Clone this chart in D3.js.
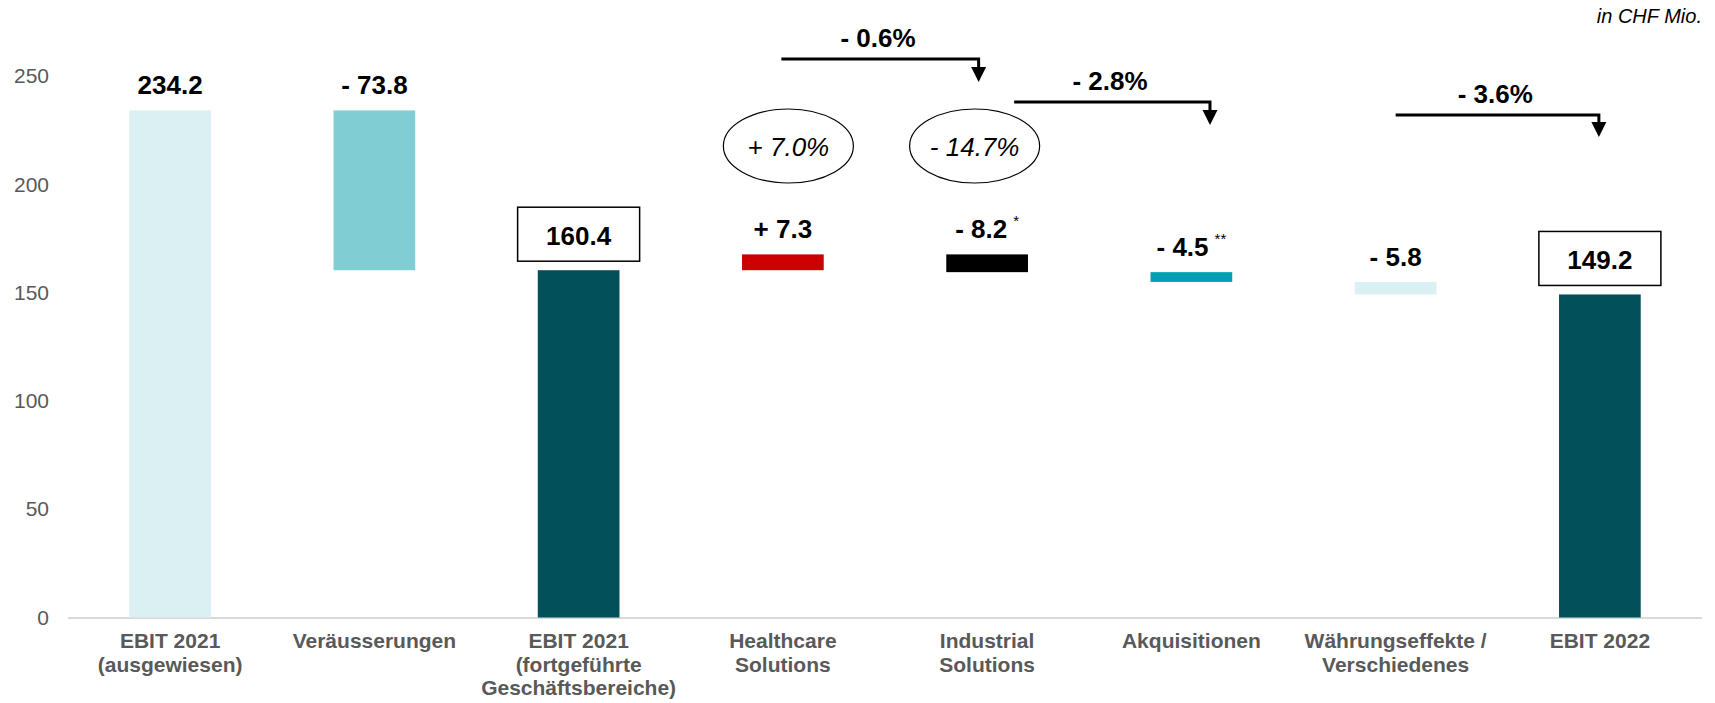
<!DOCTYPE html>
<html>
<head>
<meta charset="utf-8">
<script src="https://cdn.jsdelivr.net/npm/d3@7"></script>
<style>
  body { margin: 0; background: #fff; }
  svg text { font-family: "Liberation Sans", Arial, sans-serif; }
</style>
</head>
<body>
<div id="vis"></div>
<script>
// chart values
const categories = [
  ["EBIT 2021", "(ausgewiesen)"],
  ["Veräusserungen"],
  ["EBIT 2021", "(fortgeführte", "Geschäftsbereiche)"],
  ["Healthcare", "Solutions"],
  ["Industrial", "Solutions"],
  ["Akquisitionen"],
  ["Währungseffekte /", "Verschiedenes"],
  ["EBIT 2022"],
];
const values = [234.2, -73.8, 160.4, 7.3, -8.2, -4.5, -5.8, 149.2];
const isTotal = [true, false, true, false, false, false, false, true];
const valueLabels = ["234.2", "- 73.8", "160.4", "+ 7.3", "- 8.2", "- 4.5", "- 5.8", "149.2"];
const footnotes = ["", "", "", "", "*", "**", "", ""];
const boxed = [false, false, true, false, false, false, false, true];
const yTicks = [0, 50, 100, 150, 200, 250];

// segment growth (ellipses)
const growthCats = [3, 4];
const growthLabels = ["+ 7.0%", "- 14.7%"];

// margin change arrows
const marginFrom = [3, 4, 6];
const marginTo = [4, 5, 7];
const marginLabels = ["- 0.6%", "- 2.8%", "- 3.6%"];

////////////////////////////////////////
/////////////// Setup //////////////////
////////////////////////////////////////

const width = 1715;
const height = 703;
const colors = ["#daf0f2", "#80ced3", "#02505a", "#cc0000", "#000000", "#009fb4", "#daf0f2", "#02505a"];
const grey = "#595959";

const svg = d3.select("#vis").append("svg")
  .attr("width", width)
  .attr("height", height);

// waterfall steps
let running = 0;
const data = values.map((v, i) => {
  let start, end;
  if (isTotal[i]) { start = 0; end = v; running = v; }
  else { start = running; end = running + v; running = end; }
  return { i, lines: categories[i], start, end, label: valueLabels[i], note: footnotes[i], boxed: boxed[i] };
});

const x = d3.scaleBand()
  .domain(d3.range(categories.length))
  .range([68, 1702])
  .paddingInner(0.6)
  .paddingOuter(0.3);

const y = d3.scaleLinear().domain([0, 250]).range([617.5, 76.2]);
const cx = (i) => x(i) + x.bandwidth() / 2;

////////////////////////////////////////
/////////////// Axes ///////////////////
////////////////////////////////////////

const yAxis = svg.append("g")
  .attr("transform", "translate(60,0)")
  .call(d3.axisLeft(y).tickValues(yTicks).tickSize(0).tickPadding(11));
yAxis.select(".domain").remove();
yAxis.selectAll("text")
  .attr("fill", grey)
  .style("font-size", "21px")
  .style("font-family", "'Liberation Sans', Arial, sans-serif");

svg.append("line")
  .attr("x1", 68).attr("x2", 1702)
  .attr("y1", y(0) + 0.5).attr("y2", y(0) + 0.5)
  .attr("stroke", "#d9d9d9")
  .attr("stroke-width", 2);

// category labels
const catG = svg.append("g").selectAll("text")
  .data(data)
  .join("text")
  .attr("text-anchor", "middle")
  .attr("fill", grey)
  .attr("font-weight", "bold")
  .style("font-size", "21px");
catG.selectAll("tspan")
  .data((d) => d.lines.map((l) => ({ l, c: cx(d.i) })))
  .join("tspan")
  .attr("x", (d) => d.c)
  .attr("y", (d, k) => 648 + k * 23.5)
  .text((d) => d.l);

////////////////////////////////////////
/////////////// Bars ///////////////////
////////////////////////////////////////

svg.append("g").selectAll("rect")
  .data(data)
  .join("rect")
  .attr("x", (d) => x(d.i))
  .attr("width", x.bandwidth())
  .attr("y", (d) => y(Math.max(d.start, d.end)))
  .attr("height", (d) => Math.abs(y(d.start) - y(d.end)))
  .attr("fill", (d, i) => colors[i]);

// value labels
const lab = svg.append("g").selectAll("g")
  .data(data)
  .join("g")
  .attr("transform", (d) => `translate(${cx(d.i)},${y(Math.max(d.start, d.end))})`);

lab.filter((d) => d.boxed)
  .append("rect")
  .attr("x", -61).attr("y", -63)
  .attr("width", 122).attr("height", 54)
  .attr("fill", "#fff")
  .attr("stroke", "#000")
  .attr("stroke-width", 1.5);

const valText = lab.append("text")
  .attr("text-anchor", "middle")
  .attr("y", (d) => (d.boxed ? -25 : -16))
  .attr("font-weight", "bold")
  .attr("fill", "#000")
  .style("font-size", "26px");
valText.append("tspan").text((d) => d.label);
valText.filter((d) => d.note)
  .append("tspan")
  .attr("dx", 6)
  .attr("dy", -12)
  .style("font-size", "15px")
  .attr("font-weight", "normal")
  .text((d) => d.note);

////////////////////////////////////////
/////////////// Annotations ////////////
////////////////////////////////////////

svg.append("text")
  .attr("x", 1702).attr("y", 23)
  .attr("text-anchor", "end")
  .attr("font-style", "italic")
  .style("font-size", "20px")
  .text("in CHF Mio.");

// growth ellipses
const ellOffsets = [5.5, -12.5];
const ell = svg.append("g").selectAll("g")
  .data(growthCats.map((c, k) => ({ c, label: growthLabels[k], dx: ellOffsets[k] })))
  .join("g")
  .attr("transform", (d) => `translate(${cx(d.c) + d.dx},146)`);
ell.append("ellipse")
  .attr("rx", 65).attr("ry", 37)
  .attr("fill", "none")
  .attr("stroke", "#000")
  .attr("stroke-width", 1.2);
ell.append("text")
  .attr("text-anchor", "middle")
  .attr("y", 10)
  .attr("font-style", "italic")
  .style("font-size", "26px")
  .text((d) => d.label);

// margin arrows
const arrowGeom = [
  { dx1: -1.5, dx2: -8.5, ly: 59, tip: 82 },
  { dx1: 27, dx2: 18.6, ly: 102, tip: 125 },
  { dx1: 0, dx2: -1, ly: 115, tip: 137 },
];
const arr = svg.append("g").selectAll("g")
  .data(marginLabels.map((l, k) => ({ l, from: marginFrom[k], to: marginTo[k], ...arrowGeom[k] })))
  .join("g");
arr.append("path")
  .attr("d", (d) => {
    const x1 = cx(d.from) + d.dx1, x2 = cx(d.to) + d.dx2;
    return `M${x1},${d.ly}H${x2}V${d.tip - 14}`;
  })
  .attr("fill", "none")
  .attr("stroke", "#000")
  .attr("stroke-width", 3);
arr.append("path")
  .attr("d", (d) => {
    const x2 = cx(d.to) + d.dx2;
    return `M${x2 - 7.5},${d.tip - 15}L${x2 + 7.5},${d.tip - 15}L${x2},${d.tip}Z`;
  })
  .attr("fill", "#000");
arr.append("text")
  .attr("x", (d) => (cx(d.from) + d.dx1 + cx(d.to) + d.dx2) / 2 - 2)
  .attr("y", (d) => d.ly - 12)
  .attr("text-anchor", "middle")
  .attr("font-weight", "bold")
  .style("font-size", "26px")
  .text((d) => d.l);
</script>
</body>
</html>
